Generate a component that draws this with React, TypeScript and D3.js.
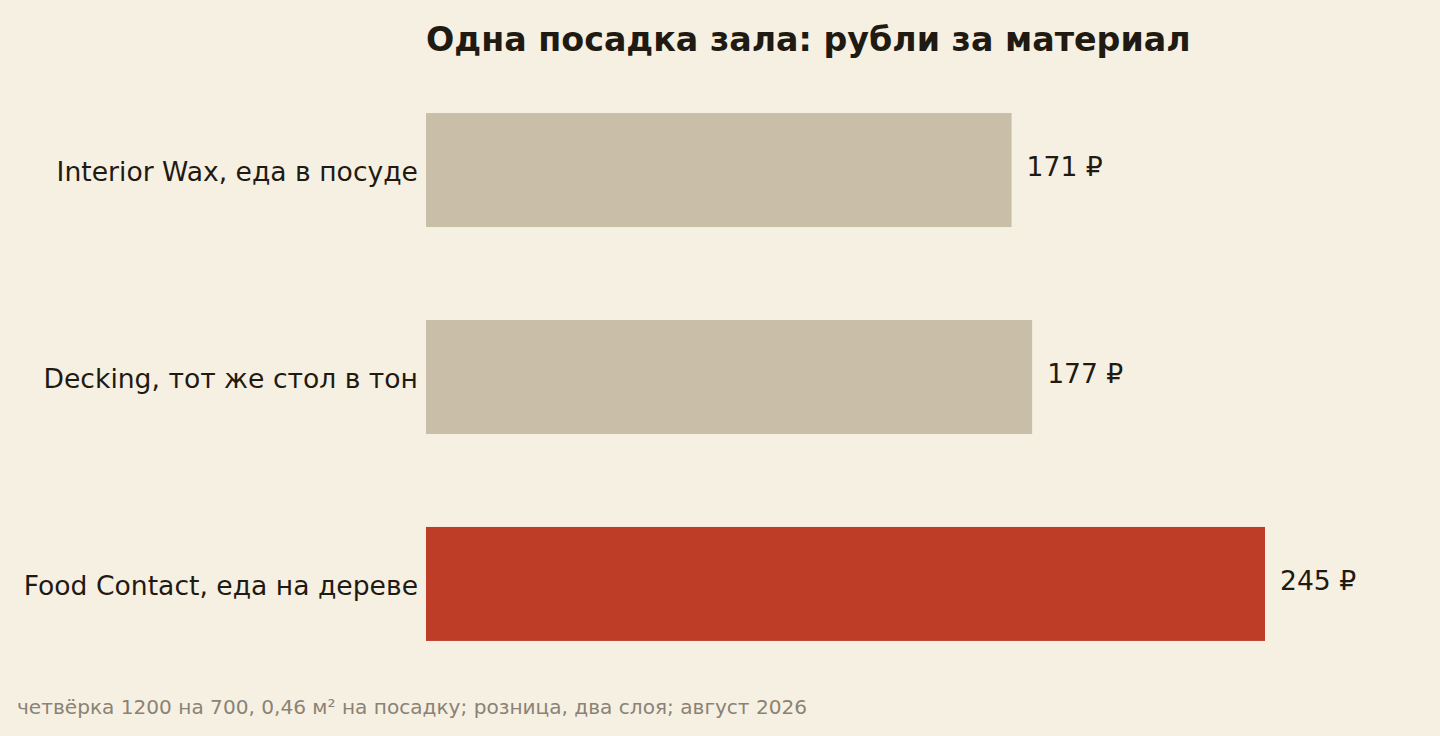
import React from "react";
import * as d3 from "d3";

const categories = [
  "Interior Wax, еда в посуде",
  "Decking, тот же стол в тон",
  "Food Contact, еда на дереве",
];
const values = [171, 177, 245];
const highlight = [false, false, true];
const valueSuffix = " ₽";
const title = "Одна посадка зала: рубли за материал";
const footnote = "четвёрка 1200 на 700, 0,46 м² на посадку; розница, два слоя; август 2026";

const W = 1440;
const H = 736;
const BG = "#f6f0e3";
const BAR = "#c9bea7";
const RED = "#bd3d27";
const INK = "#1f1a12";
const GRAY = "#8a8274";
const FONT = "'DejaVu Sans', sans-serif";

export default function App() {
  const x = d3.scaleLinear().domain([0, 245]).range([426, 1265]);
  const y = d3
    .scaleBand<string>()
    .domain(categories)
    .range([66.5, 687.5])
    .paddingInner(93 / 207)
    .paddingOuter(0.225);
  const bw = y.bandwidth();
  return (
    <div style={{ position: "fixed", left: 0, top: 0, width: W, height: H, background: BG }}>
      <svg width={W} height={H} style={{ display: "block" }} fontFamily={FONT}>
        <rect x={0} y={0} width={W} height={H} fill={BG} />
        <text x={426} y={51} fontSize={33.3} fontWeight="bold" fill={INK}>
          {title}
        </text>
        {categories.map((c, i) => {
          const yc = (y(c) ?? 0) + bw / 2;
          return (
            <g key={c}>
              <rect
                x={x(0)}
                y={y(c)}
                width={x(values[i]) - x(0)}
                height={bw}
                fill={highlight[i] ? RED : BAR}
              />
              <text x={418} y={yc + 1} dy="0.36em" textAnchor="end" fontSize={26.6} fill={INK}>
                {c}
              </text>
              <text x={x(values[i]) + 15} y={yc - 3.5} dy="0.36em" fontSize={26.6} fill={INK}>
                {values[i] + valueSuffix}
              </text>
            </g>
          );
        })}
        <text x={17} y={714} fontSize={20.1} fill={GRAY}>
          {footnote}
        </text>
      </svg>
    </div>
  );
}
